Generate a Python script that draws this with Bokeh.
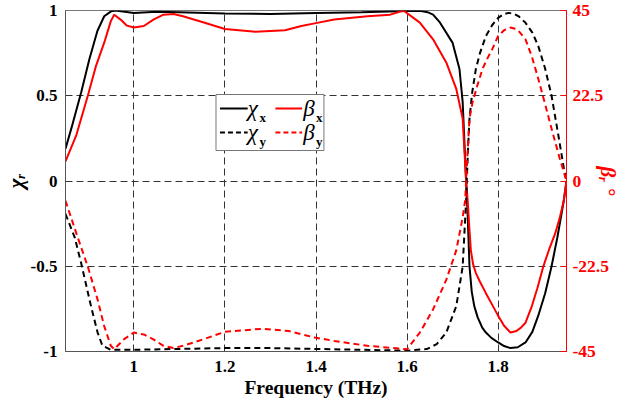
from bokeh.plotting import figure
from bokeh.models import Range1d, LinearAxis, FixedTicker, NumeralTickFormatter
from bokeh.core.properties import value
from bokeh.embed import file_html
from bokeh.resources import INLINE

# ---------------- data ----------------
chi_x_f = [0.85, 0.863, 0.8845, 0.9025, 0.92, 0.935, 0.95, 0.96, 0.98, 1.0, 1.05, 1.1, 1.2, 1.3,
           1.4, 1.5, 1.6, 1.628, 1.645, 1.657, 1.672, 1.70, 1.715, 1.722, 1.7296, 1.733, 1.737,
           1.742, 1.7475, 1.755, 1.765, 1.773, 1.785, 1.80, 1.813, 1.827, 1.843, 1.86, 1.875,
           1.888, 1.903, 1.917, 1.93, 1.944, 1.95]
chi_x = [0.19, 0.31, 0.52, 0.715, 0.88, 0.966, 0.995, 1.0, 0.992, 0.986, 0.992, 0.99, 0.982, 0.98,
         0.985, 0.99, 0.997, 0.998, 0.99, 0.976, 0.93, 0.81, 0.657, 0.464, 0.0, -0.2, -0.50,
         -0.65, -0.734, -0.80, -0.86, -0.889, -0.92, -0.947, -0.968, -0.98, -0.975, -0.947,
         -0.885, -0.79, -0.66, -0.503, -0.33, -0.116, 0.0]

chi_y_f = [0.85, 0.87, 0.8845, 0.906, 0.9205, 0.931, 0.9495, 1.0, 1.1, 1.2, 1.3, 1.4, 1.5, 1.6,
           1.643, 1.665, 1.686, 1.708, 1.722, 1.7296, 1.731, 1.734, 1.737, 1.743, 1.751, 1.76,
           1.773, 1.787, 1.80, 1.812, 1.823, 1.835, 1.845, 1.86, 1.875, 1.888, 1.903, 1.917,
           1.932, 1.944, 1.95]
chi_y = [-0.193, -0.329, -0.483, -0.734, -0.889, -0.966, -0.99, -0.99, -0.985, -0.98, -0.98,
         -0.985, -0.99, -0.995, -0.986, -0.957, -0.889, -0.734, -0.503, -0.116, 0.0, 0.2, 0.367,
         0.52, 0.657, 0.75, 0.85, 0.915, 0.957, 0.978, 0.986, 0.98, 0.966, 0.928, 0.87, 0.792,
         0.66, 0.503, 0.27, 0.077, 0.0]

beta_x_f = [0.85, 0.874, 0.899, 0.917, 0.935, 0.9495, 0.957, 0.971, 0.985, 1.0, 1.022, 1.043,
            1.065, 1.087, 1.108, 1.152, 1.2, 1.267, 1.332, 1.368, 1.397, 1.44, 1.513, 1.563,
            1.592, 1.628, 1.657, 1.686, 1.708, 1.722, 1.7296, 1.733, 1.737, 1.740, 1.745, 1.751,
            1.76, 1.773, 1.787, 1.80, 1.813, 1.827, 1.84, 1.85, 1.86, 1.874, 1.886, 1.899, 1.912,
            1.925, 1.935, 1.944, 1.95]
beta_x = [5.2, 12.2, 22.5, 30.4, 36.5, 42.2, 43.9, 42.6, 41.0, 40.5, 40.9, 42.6, 43.9, 44.1,
          43.5, 41.9, 40.1, 39.4, 39.8, 40.9, 41.6, 42.6, 43.5, 43.9, 45.0, 41.8, 37.4, 31.3,
          24.3, 16.5, 0.0, -5.2, -13.0, -18.3, -22.0, -24.3, -26.6, -29.6, -32.7, -35.6, -38.2,
          -40.0, -39.6, -38.7, -37.4, -33.0, -28.3, -22.6, -18.0, -13.9, -9.8, -5.2, 0.0]

beta_y_f = [0.85, 0.874, 0.899, 0.9205, 0.935, 0.9495, 0.957, 0.978, 1.0, 1.022, 1.043, 1.065,
            1.087, 1.108, 1.152, 1.2, 1.282, 1.34, 1.397, 1.44, 1.513, 1.6, 1.628, 1.657, 1.686,
            1.708, 1.722, 1.7274, 1.733, 1.737, 1.744, 1.755, 1.7656, 1.777, 1.787, 1.80, 1.813,
            1.827, 1.837, 1.845, 1.86, 1.874, 1.888, 1.903, 1.917, 1.935, 1.95]
beta_y = [-5.2, -13.9, -22.6, -31.3, -38.3, -43.5, -44.4, -41.8, -40.0, -40.5, -41.8, -43.5,
          -44.1, -43.5, -41.8, -39.8, -39.0, -39.6, -41.3, -42.2, -43.5, -44.4, -40.0, -33.9,
          -26.1, -18.3, -9.6, -5.2, 7.8, 16.5, 20.9, 25.5, 29.6, 32.5, 34.8, 38.3, 39.8, 40.5,
          40.2, 39.6, 37.4, 32.8, 27.0, 20.3, 13.9, 6.0, 0.0]

x_ticks = [1.0, 1.2, 1.4, 1.6, 1.8]
y_ticks = [-1.0, -0.5, 0.0, 0.5, 1.0]
deg_ticks = [-45.0, -22.5, 0.0, 22.5, 45.0]

x_title = "Frequency (THz)"
left_title = "χᵣ"
right_title = "βᵣ °"

# ---------------- layout ----------------
W, H = 622, 405
L, R, T, B = 61, 567, 10, 351
X0, X1 = 0.85, 1.95
Y0, Y1 = -1.0, 1.0
FONT = "Liberation Serif"
RED = "#ff0000"


def sx(px):
    return X0 + (px - L) * (X1 - X0) / (R - L)


def sy(py):
    return Y1 - (py - T) * (Y1 - Y0) / (B - T)


p = figure(width=W, height=H, x_range=Range1d(X0, X1), y_range=Range1d(Y0, Y1),
           output_backend="svg", toolbar_location=None,
           min_border_left=L, min_border_right=W - R, min_border_top=T, min_border_bottom=H - B)
p.extra_y_ranges = {"deg": Range1d(-45, 45)}
p.outline_line_color = "#777777"
p.outline_line_width = 1
p.background_fill_color = "white"
p.border_fill_color = "white"

fmt = NumeralTickFormatter(format="0.[0]")

for ax, ticks in ((p.xaxis[0], x_ticks), (p.yaxis[0], y_ticks)):
    ax.ticker = FixedTicker(ticks=ticks)
    ax.formatter = fmt
    ax.major_label_text_font = FONT
    ax.major_label_text_font_style = "bold"
    ax.major_label_text_font_size = "17px"
    ax.major_label_text_color = "black"
    ax.axis_line_color = "#555555"
    ax.major_tick_in = 0
    ax.major_tick_out = 0
    ax.minor_tick_line_color = None
    ax.axis_label_text_font = FONT
    ax.axis_label_text_color = "black"

p.xaxis.major_label_standoff = 9
p.yaxis.major_label_standoff = 8
p.xaxis.axis_label = x_title
p.xaxis.axis_label_text_font_style = "bold"
p.xaxis.axis_label_text_font_size = "19.5px"
p.xaxis.axis_label_standoff = 2

p.yaxis.axis_label = left_title
p.yaxis.axis_label_text_font_style = "bold italic"
p.yaxis.axis_label_text_font_size = "21px"
p.yaxis.axis_label_standoff = 0

rax = LinearAxis(y_range_name="deg", ticker=FixedTicker(ticks=deg_ticks), formatter=fmt)
rax.axis_line_color = RED
rax.major_tick_line_color = RED
rax.major_tick_in = 6
rax.major_tick_out = 0
rax.minor_tick_line_color = None
rax.major_label_text_color = RED
rax.major_label_text_font = FONT
rax.major_label_text_font_style = "bold"
rax.major_label_text_font_size = "17.5px"
rax.major_label_standoff = 6
rax.axis_label = right_title
rax.axis_label_text_font = FONT
rax.axis_label_text_font_style = "bold italic"
rax.axis_label_text_font_size = "21px"
rax.axis_label_text_color = RED
rax.axis_label_standoff = -16
p.add_layout(rax, "right")

for g in (p.xgrid[0], p.ygrid[0]):
    g.grid_line_color = "#333333"
    g.grid_line_dash = "7 4"
    g.grid_line_width = 1
p.ygrid[0].ticker = FixedTicker(ticks=y_ticks)
p.xgrid[0].ticker = FixedTicker(ticks=x_ticks)

# ---------------- curves ----------------
p.line(chi_x_f, chi_x, line_color="black", line_width=2)
p.line(beta_x_f, beta_x, line_color=RED, line_width=2, y_range_name="deg")
p.line(chi_y_f, chi_y, line_color="black", line_width=2, line_dash="6 4")
p.line(beta_y_f, beta_y, line_color=RED, line_width=2, line_dash="6 4", y_range_name="deg")

# ---------------- legend (hand-built for sub-scripted labels) ----------------
p.quad(left=[sx(213)], right=[sx(322)], top=[sy(94)], bottom=[sy(150)],
       fill_color="white", line_color="#777777", line_width=1)
rows = [(108, "x", None), (132, "y", "5 3")]
for ry, sub, dash in rows:
    kw = {} if dash is None else {"line_dash": dash}
    p.line([sx(217), sx(245)], [sy(ry), sy(ry)], line_color="black", line_width=2, **kw)
    p.line([sx(273), sx(300)], [sy(ry), sy(ry)], line_color=RED, line_width=2, **kw)
    p.text([sx(245)], [sy(ry)], text=["χ"], text_font=value(FONT), text_font_style="italic",
           text_font_size="23px", text_baseline="middle", text_align="left", text_color="black")
    p.text([sx(257)], [sy(ry + 9)], text=[sub], text_font=value(FONT), text_font_style="bold",
           text_font_size="13px", text_baseline="middle", text_align="left", text_color="black")
    p.text([sx(301)], [sy(ry)], text=["β"], text_font=value(FONT), text_font_style="italic",
           text_font_size="23px", text_baseline="middle", text_align="left", text_color="black")
    p.text([sx(314)], [sy(ry + 9)], text=[sub], text_font=value(FONT), text_font_style="bold",
           text_font_size="13px", text_baseline="middle", text_align="left", text_color="black")

open("out.html", "w").write(file_html(p, INLINE))
